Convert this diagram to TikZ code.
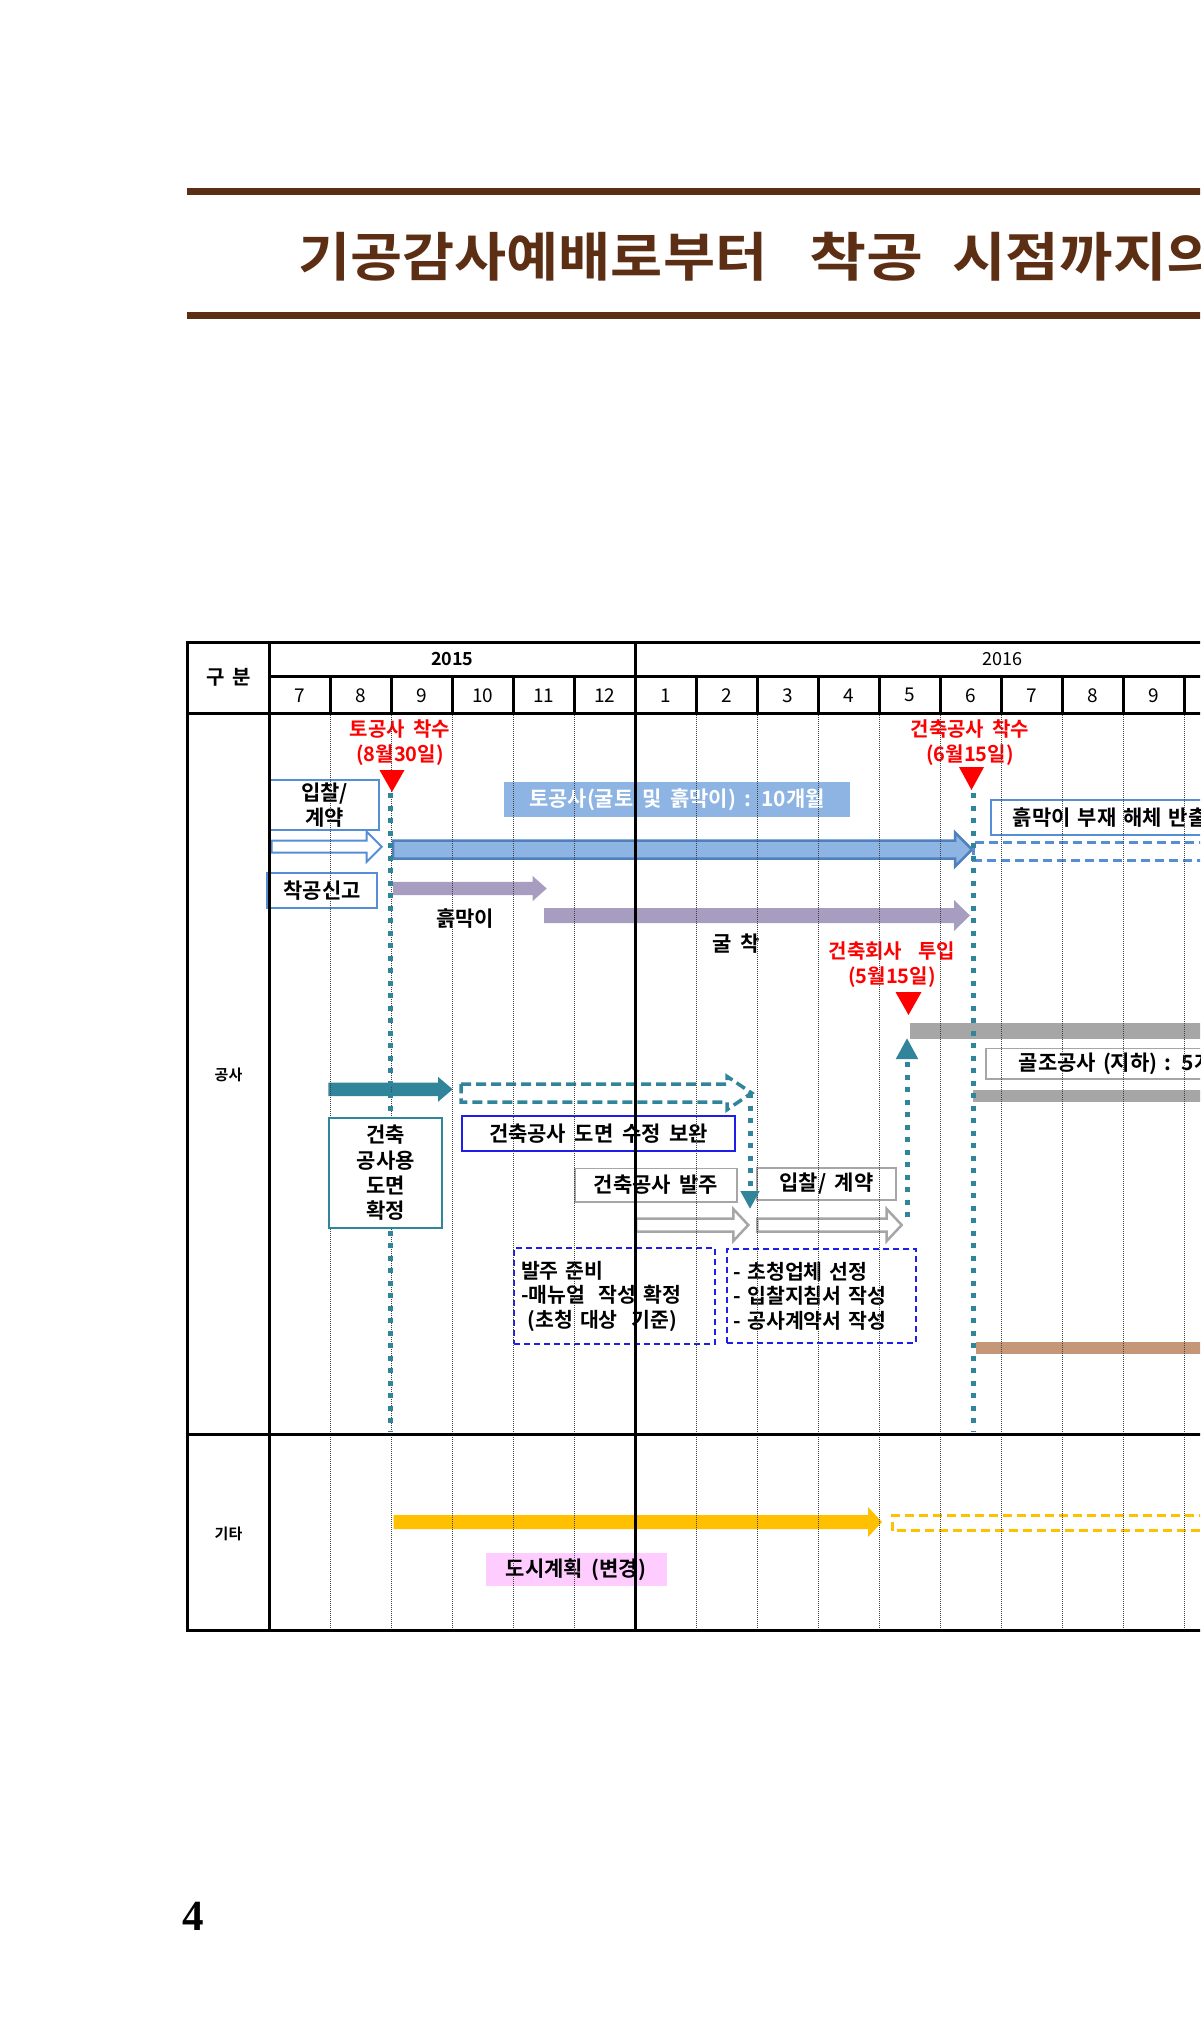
\documentclass[tikz,border=0pt]{standalone}
\usepackage{fontspec}
\setmainfont{Noto Sans CJK KR}[BoldFont={* Bold}, WordSpace=1.8]
\newfontfamily\pagefont{Liberation Serif}
\usetikzlibrary{arrows.meta}

\definecolor{titlebrown}{RGB}{92,46,20}
\definecolor{tealc}{RGB}{49,133,155}
\definecolor{lineblue}{RGB}{85,142,213}
\definecolor{barblue}{RGB}{141,180,227}
\definecolor{barline}{RGB}{79,129,189}
\definecolor{purplec}{RGB}{167,157,192}
\definecolor{grayc}{RGB}{166,166,166}
\definecolor{tanc}{RGB}{196,151,120}
\definecolor{yellowc}{RGB}{255,192,0}
\definecolor{pinkc}{RGB}{255,204,255}
\definecolor{boxblue}{RGB}{30,30,235}

% #2 start x, #3 tip x, #4 centre y, #5 half shaft, #6 half head, #7 head length
\newcommand{\blockarrow}[7][]{%
  \path[#1] (#2,#4-#5) -- (#3-#7,#4-#5) -- (#3-#7,#4-#6) -- (#3,#4)
    -- (#3-#7,#4+#6) -- (#3-#7,#4+#5) -- (#2,#4+#5) -- cycle;}

\tikzset{
    tblline/.style={line width=3pt, black, line cap=rect},
    monthline/.style={line width=1.3pt, black!75, dash pattern=on 1.2pt off 0.8pt},
    hdr/.style={inner sep=0pt, font=\fontsize{19}{22}\selectfont},
    hdrbold/.style={inner sep=0pt, font=\bfseries\fontsize{19}{22}\selectfont},
    lbl/.style={inner sep=0pt, align=center, font=\bfseries\fontsize{21}{25}\selectfont},
    redlbl/.style={lbl, text=red, font=\bfseries\fontsize{20}{25}\selectfont},
    rowlbl/.style={inner sep=0pt, font=\bfseries\fontsize{15}{18}\selectfont},
    titlepart/.style={anchor=west, inner sep=0pt, text=titlebrown, font=\bfseries\fontsize{54}{60}\selectfont},
    bluebox/.style={lbl, draw=lineblue, line width=1.5pt},
    graybox/.style={lbl, draw=grayc, line width=1.5pt},
    darkbox/.style={lbl, draw=boxblue, line width=1.5pt},
    tealbox/.style={lbl, draw=tealc, line width=1.5pt, fill=white, font=\bfseries\fontsize{21}{25.3}\selectfont},
    note/.style={draw=boxblue, line width=1.8pt, dash pattern=on 6pt off 4pt, align=left, inner ysep=0pt, inner xsep=7pt, font=\bfseries\fontsize{20.5}{24.5}\selectfont},
    hollow/.style={draw=#1, fill=white, line width=2.5pt},
    dashbar/.style={draw=#1, line width=3pt, dash pattern=on 9pt off 5pt},
    mileline/.style={tealc, line width=5pt, dash pattern=on 5pt off 7.5pt},
}

\begin{document}
\begin{tikzpicture}[x=1pt, y=-1pt]
    \useasboundingbox (0,0) rectangle (1200,2030);
    \clip (0,0) rectangle (1200,2030);

    \fill[titlebrown] (187,188) rectangle (1250,195);
    \fill[titlebrown] (187,312) rectangle (1250,319);
    \node[titlepart] (title1) at (298,256.5) {\resizebox*{469pt}{49pt}{기공감사예배로부터}};
    \node[titlepart] (title2) at (809,256.5) {\resizebox*{114pt}{49pt}{착공}};
    \node[titlepart] (title3) at (952,256.5) {\resizebox*{268pt}{49pt}{시점까지의}};

    \blockarrow[hollow=lineblue, line width=2pt]{271.7}{381.7}{846.7}{6}{15}{15}
    \blockarrow[fill=barblue, draw=barline, line width=2.5pt]{393}{972}{849.5}{9}{17}{17}
    \draw[dashbar=lineblue] (1250,842.5) -| (973,860) -- (1250,860);
    \blockarrow[fill=purplec]{393}{546.7}{888.5}{6.7}{12.5}{14}
    \blockarrow[fill=purplec]{544}{970}{915.5}{7.5}{15.5}{16}
    \fill[grayc] (910,1023) rectangle (1250,1039);
    \fill[grayc] (973,1089.5) rectangle (1250,1101.5);
    \blockarrow[fill=tealc]{328.3}{452.7}{1089.3}{6.7}{12.5}{14.7}
    \blockarrow[draw=tealc, line width=3.5pt, dash pattern=on 10pt off 5pt]{461}{751.7}{1093}{9}{16.5}{24.5}
    \blockarrow[hollow=grayc]{636}{748.3}{1225}{6.5}{16}{15}
    \blockarrow[hollow=grayc]{757.3}{901.7}{1225}{6.5}{16}{15}
    \fill[tanc] (976,1342) rectangle (1250,1354);
    \blockarrow[fill=yellowc]{393.5}{882}{1522}{7}{15}{14}
    \draw[dashbar=yellowc] (1250,1515.5) -| (892,1530.5) -- (1250,1530.5);

    \node[hdrbold, font=\bfseries\fontsize{20}{22}\selectfont] (part) at (228.5,677.5) {구 분};
    \node[hdrbold, font=\bfseries\fontsize{18}{22}\selectfont] (y15) at (452.3,659) {2015};
    \node[hdr, font=\fontsize{18}{22}\selectfont] (y16) at (1002.5,659) {2016};
    \foreach \m [count=\i from 0] in {7,8,9,10,11,12,1,2,3,4,5,6,7,8,9}
        \node[hdr] (m\i) at ({269.3+61*(\i+0.5)},695.3) {\m};
    \node[rowlbl] (work) at (228.5,1075) {공사};
    \node[rowlbl] (etc) at (228.5,1534) {기타};

    \node[redlbl] (ms1) at (400,742.5) {토공사 착수\\(8월30일)};
    \node[redlbl] (ms2) at (970,742.5) {건축공사 착수\\(6월15일)};
    \node[redlbl] (ms3) at (892,964.5) {건축회사~~투입\\(5월15일)};

    \node[bluebox, minimum width=109pt, minimum height=50pt] (bidA) at (324.5,805) {입찰/\\계약};
    \node[bluebox, minimum width=110pt, minimum height=35pt] (notice) at (322,890.5) {착공신고};
    \node[lbl, fill=barblue, text=white, minimum width=346pt, minimum height=35pt] (earth) at (677,799.5) {토공사(굴토 및 흙막이) : 10개월};
    \node[bluebox, anchor=west, align=left, text width=280pt, inner xsep=22pt, minimum height=35pt] (strip) at (990,817.5) {흙막이 부재 해체 반출};
    \node[graybox, anchor=west, align=left, text width=280pt, inner xsep=33pt, minimum height=30.7pt] (frame) at (985,1063.7) {골조공사 (지하) : 5개월};
    \node[lbl] (wall) at (465,919) {흙막이};
    \node[lbl] (dig) at (736,944) {굴 착};

    \node[darkbox, minimum width=273pt, minimum height=35pt] (revise) at (598.5,1133.3) {건축공사 도면 수정 보완};
    \node[graybox, minimum width=162pt, minimum height=33.5pt] (order) at (656,1185) {건축공사 발주};
    \node[graybox, minimum width=139pt, minimum height=32pt] (bidB) at (826.5,1184) {입찰/ 계약};
    \node[note, minimum width=201pt, minimum height=96pt, text width=187pt] (prep) at (614.5,1296) {발주 준비\\-매뉴얼~~작성 확정\\~(초청 대상~~기준)};
    \node[note, minimum width=189pt, minimum height=94pt, text width=177pt, inner xsep=6pt] (invite) at (821.5,1296) {- 초청업체 선정\\- 입찰지침서 작성\\- 공사계약서 작성};
    \node[lbl, fill=pinkc, minimum width=181pt, minimum height=33pt] (plan) at (576,1569.7) {도시계획 (변경)};

    \foreach \i in {1,2,3,4,5,7,8,9,10,11,12,13,14,15} {
        \draw[tblline] ({269.3+61*\i},676) -- ({269.3+61*\i},713);
        \draw[monthline] ({269.3+61*\i},713) -- ({269.3+61*\i},1630);
    }
    \draw[tblline] (187.7,642) -- (1250,642);
    \draw[tblline] (269.3,676) -- (1250,676);
    \draw[tblline] (187.7,713) -- (1250,713);
    \draw[tblline] (187.7,1434) -- (1250,1434);
    \draw[tblline] (187.7,1630) -- (1250,1630);
    \foreach \x in {187.7,269.3,635.3} \draw[tblline] (\x,642) -- (\x,1630);

    \coordinate (s1) at (390,793);
    \coordinate (e1) at (390,1432);
    \coordinate (s2) at (973,793);
    \coordinate (e2) at (973,1432);
    \coordinate (dtip) at (750,1093);
    \coordinate (otop) at (750,1209);
    \coordinate (btip) at (907,1217);
    \coordinate (gbar) at (907,1038);
    \draw[mileline] (s1) -- (e1);
    \draw[mileline] (s2) -- (e2);
    \draw[mileline, -{Triangle[length=18pt,width=18pt]}] (dtip) -- (otop);
    \draw[mileline, -{Triangle[length=21pt,width=21pt]}] (btip) -- (gbar);

    \node[tealbox, minimum width=113pt, minimum height=110pt] (confirm) at (385.7,1173) {건축\\공사용\\도면\\확정};

    \fill[red] (379.5,770) -- (404.5,770) -- (392,792) -- cycle;
    \fill[red] (959,767) -- (984,767) -- (971.5,790) -- cycle;
    \fill[red] (895.5,992) -- (921.5,992) -- (908.5,1015) -- cycle;

    \node[inner sep=0pt, font=\pagefont\bfseries\fontsize{43}{48}\selectfont] (pgno) at (193.3,1916.2) {4};
\end{tikzpicture}
\end{document}
